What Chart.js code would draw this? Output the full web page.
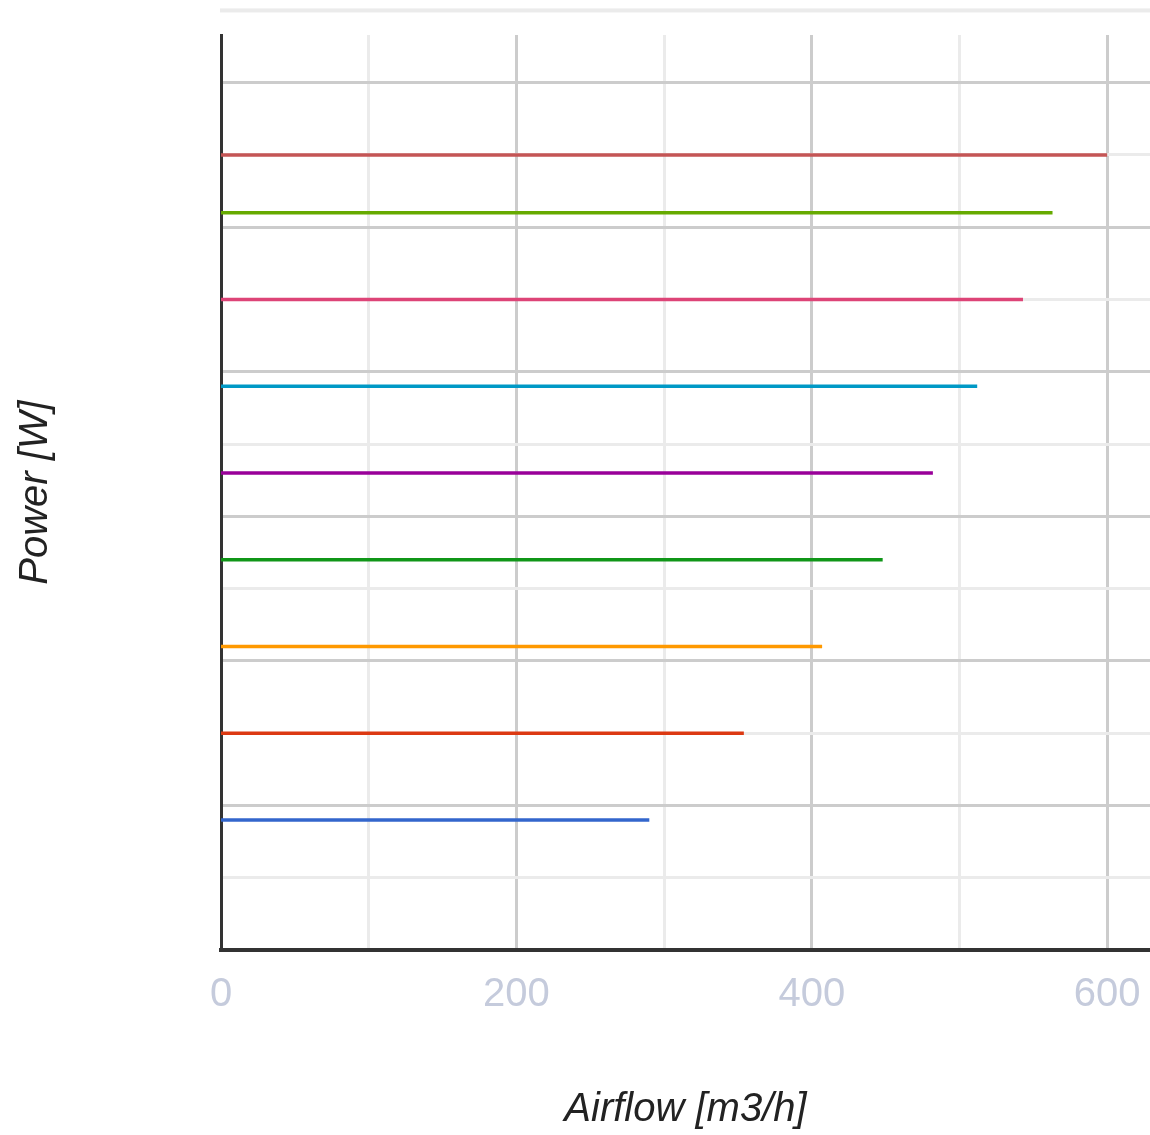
<!DOCTYPE html>
<html>
<head>
<meta charset="utf-8">
<script src="https://cdn.jsdelivr.net/npm/chart.js@4/dist/chart.umd.min.js"></script>
<style>
  body { margin: 0; background: #fff; }
</style>
</head>
<body>
<canvas id="powerChart" width="1150" height="1135"></canvas>
<script>
// one horizontal line per fan speed: power level (W) and max airflow (m3/h)
const speedNames = ['Speed 1', 'Speed 2', 'Speed 3', 'Speed 4', 'Speed 5', 'Speed 6', 'Speed 7', 'Speed 8', 'Speed 9'];
const powerLevels = [90, 150, 210, 270, 330, 390, 450, 510, 550];
const airflowStart = [0, 0, 0, 0, 0, 0, 0, 0, 0];
const airflowEnd = [290, 354, 407, 448, 482, 512, 543, 563, 600];
const seriesColors = [
  '#3366cc', // blue
  '#dc3912', // red
  '#ff9900', // orange
  '#109618', // green
  '#990099', // purple
  '#0099c6', // cyan
  '#dd4477', // pink
  '#66aa00', // lime
  '#c45555'  // dark red
];
const xTickLabels = [0, 200, 400, 600];

const datasets = speedNames.map((name, i) => ({
  label: name,
  data: [
    { x: airflowStart[i], y: powerLevels[i] },
    { x: airflowEnd[i], y: powerLevels[i] }
  ],
  borderColor: seriesColors[i],
  borderWidth: 3.5,
  pointRadius: 0,
  fill: false
}));

// light gridline above the plot top (seen in the original)
const topLine = {
  id: 'topLine',
  beforeDraw(chart) {
    const y = chart.scales.y.getPixelForValue(650);
    const c = chart.ctx;
    c.save();
    c.fillStyle = '#ebebeb';
    c.fillRect(chart.chartArea.left - 1, y - 2, chart.width, 4);
    c.restore();
  }
};

function gridColorFor(major, minor) {
  return (ctx) => {
    const v = ctx.tick.value;
    if (v % major === 0) return '#cccccc';
    if (v % minor === 0) return '#ebebeb';
    return 'rgba(0,0,0,0)';
  };
}

const ctx = document.getElementById('powerChart').getContext('2d');
new Chart(ctx, {
  type: 'line',
  data: { datasets: datasets },
  plugins: [topLine],
  options: {
    responsive: false,
    animation: false,
    layout: { padding: { top: 35, left: 0, right: 0, bottom: 0 } },
    plugins: {
      legend: { display: false },
      tooltip: { enabled: false }
    },
    scales: {
      x: {
        type: 'linear',
        min: 0,
        max: 629,
        afterFit: (scale) => {
          scale.height = 185;
          scale.paddingLeft = 0;
          scale.paddingRight = 0;
        },
        border: { color: '#333333', width: 4 },
        grid: { color: gridColorFor(200, 100), lineWidth: 3, drawTicks: false },
        ticks: {
          stepSize: 100,
          includeBounds: false,
          autoSkip: false,
          padding: 21,
          maxRotation: 0,
          color: '#c5cbdc',
          font: { family: 'Liberation Sans, Arial', size: 40 },
          callback: (v) => xTickLabels.includes(v) ? String(v) : ''
        },
        title: {
          display: true,
          text: 'Airflow [m3/h]',
          color: '#222222',
          padding: { top: 0, bottom: 1 },
          font: { family: 'Liberation Sans, Arial', size: 40, style: 'italic' }
        }
      },
      y: {
        type: 'linear',
        min: 0,
        max: 633,
        afterFit: (scale) => {
          scale.width = 221;
          scale.paddingTop = 0;
          scale.paddingBottom = 0;
        },
        border: { color: '#333333', width: 3 },
        grid: { color: gridColorFor(100, 50), lineWidth: 3, drawTicks: false },
        ticks: { stepSize: 50, includeBounds: false, display: false },
        title: {
          display: true,
          text: 'Power [W]',
          color: '#222222',
          padding: { top: 12, bottom: 0 },
          font: { family: 'Liberation Sans, Arial', size: 40, style: 'italic' }
        }
      }
    }
  }
});
</script>
</body>
</html>
